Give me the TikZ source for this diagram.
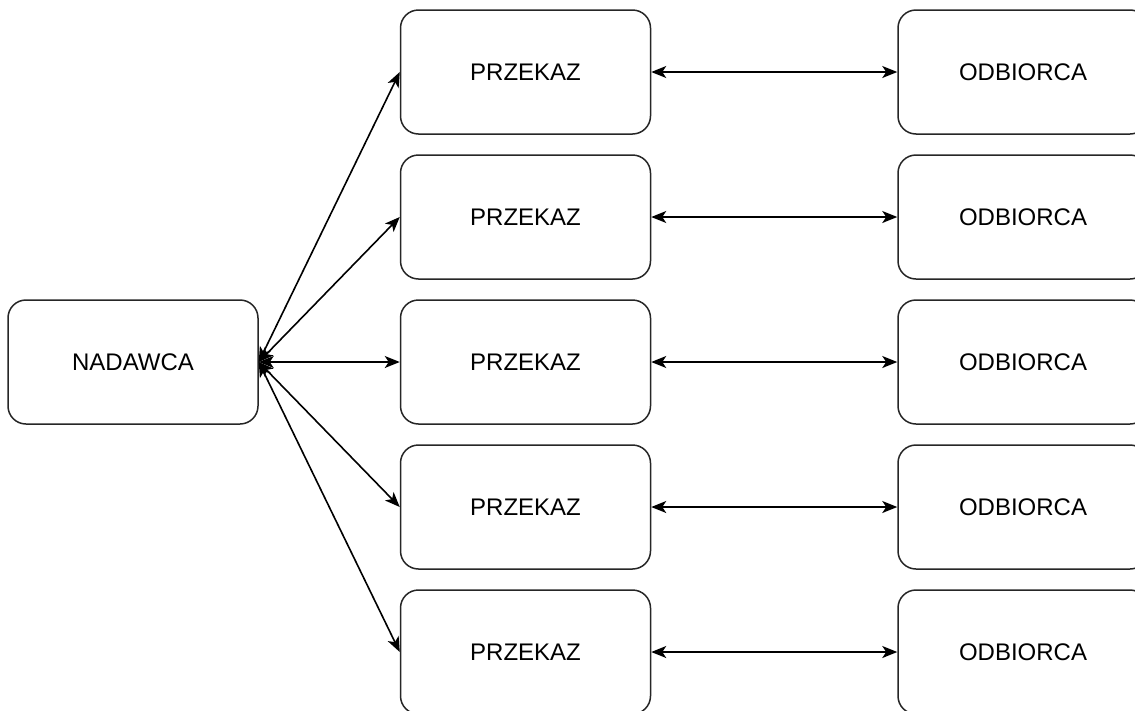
\documentclass[tikz,border=0pt]{standalone}
\usepackage{fontspec}
\setmainfont{Liberation Sans}
\usetikzlibrary{arrows.meta}
\begin{document}
\begin{tikzpicture}[x=1pt,y=-1pt,
  box/.style={draw=black!85, line width=1.5pt, rounded corners=18pt, minimum width=250pt, minimum height=124pt, inner sep=0pt, fill=white, font=\fontsize{24}{28}\selectfont},
  link/.style={line width=1.6pt, {Stealth[length=15pt,width=12pt,inset=4pt]}-{Stealth[length=15pt,width=12pt,inset=4pt]}}]
\useasboundingbox (0,0) rectangle (1135,710);
\clip (0,0) rectangle (1135,710);
\node[box] (n) at (133,362) {NADAWCA};
\foreach \i/\y in {1/72,2/217,3/362,4/507,5/652}{
  \node[box] (p\i) at (525.5,\y) {PRZEKAZ};
  \node[box] (o\i) at (1023,\y) {ODBIORCA};
  \draw[link] (n.east) -- (p\i.west);
  \draw[link] (p\i.east) -- (o\i.west);
}
\end{tikzpicture}
\end{document}
